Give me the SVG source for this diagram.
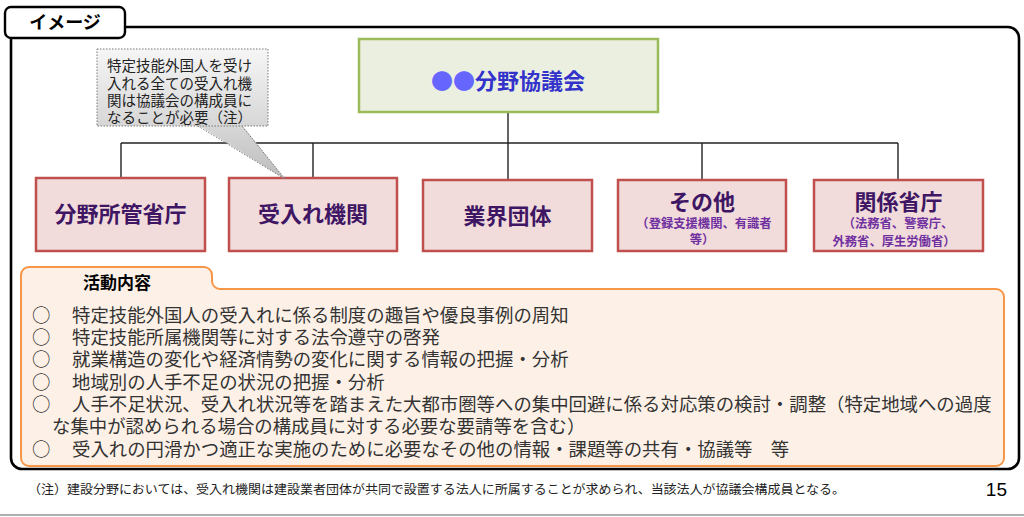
<svg xmlns="http://www.w3.org/2000/svg" width="1024" height="517" viewBox="0 0 1024 517">
<defs>
<linearGradient id="callGrad" gradientUnits="userSpaceOnUse" x1="0" y1="49" x2="0" y2="179">
<stop offset="0" stop-color="#f6f6f6"/>
<stop offset="0.6" stop-color="#d6d6d6"/>
<stop offset="1" stop-color="#bdbdbd"/>
</linearGradient>
<style>
.jp{font-family:"Noto Sans CJK JP","Noto Sans CJK SC",sans-serif;}
.box{fill:#f2dcdb;stroke:#c0504d;stroke-width:2.5;}
.boxt{font-size:22px;font-weight:bold;fill:#3f1663;text-anchor:middle;}
.subt{font-size:12.3px;font-weight:bold;fill:#7030a0;text-anchor:middle;}
.conn{stroke:#222;stroke-width:1.4;fill:none;}
.item{font-size:18.4px;fill:#333;}
</style>
</defs>
<rect width="1024" height="517" fill="#fff"/>

<g id="frame">
<path d="M125,27 H1008 A11,11 0 0 1 1019,38 V458 A11,11 0 0 1 1008,469 H22 A11,11 0 0 1 11,458 V38" fill="none" stroke="#000" stroke-width="2.6"/>
<rect x="5" y="7" width="120" height="31" rx="6" fill="#fff" stroke="#000" stroke-width="2.4"/>
<text class="jp" x="65" y="29" font-size="18" font-weight="bold" text-anchor="middle" fill="#000">イメージ</text>
</g>

<g id="connectors">
<line class="conn" x1="508" y1="112" x2="508" y2="180"/>
<line class="conn" x1="121" y1="143" x2="898" y2="143" stroke="#444"/>
<line class="conn" x1="121" y1="143" x2="121" y2="178"/>
<line class="conn" x1="313" y1="143" x2="313" y2="178"/>
<line class="conn" x1="702" y1="143" x2="702" y2="180"/>
<line class="conn" x1="898" y1="143" x2="898" y2="180"/>
</g>

<g id="council">
<rect x="359" y="39" width="299" height="73" fill="#ebefdf" stroke="#9bbb59" stroke-width="2.5"/>
<text class="jp" x="508" y="89" font-size="22" font-weight="bold" text-anchor="middle" fill="#3333cc"><tspan fill="#6666ff">●●</tspan>分野協議会</text>
</g>

<g id="n-ministry">
<rect class="box" x="36" y="178" width="169" height="73"/>
<text class="jp boxt" x="120.5" y="222">分野所管省庁</text>
</g>

<g id="n-receiving">
<rect class="box" x="229" y="178" width="168" height="73"/>
<text class="jp boxt" x="313" y="222">受入れ機関</text>
</g>

<g id="n-industry">
<rect class="box" x="423" y="180" width="169" height="71"/>
<text class="jp boxt" x="507.5" y="224">業界団体</text>
</g>

<g id="n-other">
<rect class="box" x="618" y="180" width="168" height="71"/>
<text class="jp boxt" x="702" y="210">その他</text>
<text class="jp subt" x="704" y="228">（登録支援機関、有識者</text>
<text class="jp subt" x="702" y="244">等）</text>
</g>

<g id="n-related">
<rect class="box" x="814" y="180" width="169" height="71"/>
<text class="jp boxt" x="898.5" y="210">関係省庁</text>
<text class="jp subt" x="898" y="228">（法務省、警察庁、</text>
<text class="jp subt" x="894" y="246">外務省、厚生労働省）</text>
</g>

<g id="callout">
<polygon points="198,125 242,125 285,179" fill="url(#callGrad)"/>
<path d="M198,126 L285,179 L242,126" fill="none" stroke="#777" stroke-width="1" stroke-dasharray="1.5,1.5"/>
<rect x="97" y="49" width="171" height="77" fill="url(#callGrad)" stroke="#777" stroke-width="1" stroke-dasharray="1.5,1.5"/>
<polygon points="199,125 241,125 243,128 200,128" fill="#cfcfcf" opacity="0"/>
<text class="jp" font-size="14.5" fill="#222">
<tspan x="107" y="71">特定技能外国人を受け</tspan>
<tspan x="107" y="89">入れる全ての受入れ機</tspan>
<tspan x="107" y="106">関は協議会の構成員に</tspan>
<tspan x="107" y="123">なることが必要（注）</tspan>
</text>
</g>

<g id="activities">
<path d="M21,458 V275 A8,8 0 0 1 29,267 H204 A8,8 0 0 1 212,275 V281 A8,8 0 0 0 220,289 H996 A8,8 0 0 1 1004,297 V458 A8,8 0 0 1 996,466 H29 A8,8 0 0 1 21,458 Z" fill="#fdf1e7" stroke="#f79646" stroke-width="2"/>
<text class="jp" x="117" y="289" font-size="17" font-weight="bold" text-anchor="middle" fill="#000">活動内容</text>
<g class="jp item">
<text x="32" y="322">○</text><text x="72" y="322">特定技能外国人の受入れに係る制度の趣旨や優良事例の周知</text>
<text x="32" y="344">○</text><text x="72" y="344">特定技能所属機関等に対する法令遵守の啓発</text>
<text x="32" y="366">○</text><text x="72" y="366">就業構造の変化や経済情勢の変化に関する情報の把握・分析</text>
<text x="32" y="389">○</text><text x="72" y="389">地域別の人手不足の状況の把握・分析</text>
<text x="32" y="411">○</text><text x="72" y="411">人手不足状況、受入れ状況等を踏まえた大都市圏等への集中回避に係る対応策の検討・調整（特定地域への過度</text>
<text x="52" y="433">な集中が認められる場合の構成員に対する必要な要請等を含む）</text>
<text x="32" y="456">○</text><text x="72" y="456">受入れの円滑かつ適正な実施のために必要なその他の情報・課題等の共有・協議等　等</text>
</g>
</g>

<g id="footer">
<text class="jp" x="28" y="494" font-size="12.5" fill="#222" textLength="817" lengthAdjust="spacingAndGlyphs">（注）建設分野においては、受入れ機関は建設業者団体が共同で設置する法人に所属することが求められ、当該法人が協議会構成員となる。</text>
<text x="1007" y="496" font-family="Liberation Sans, Arial, sans-serif" font-size="19" text-anchor="end" fill="#000">15</text>
<line x1="0" y1="515" x2="1024" y2="515" stroke="#b0b0b0" stroke-width="2"/>
</g>
</svg>
